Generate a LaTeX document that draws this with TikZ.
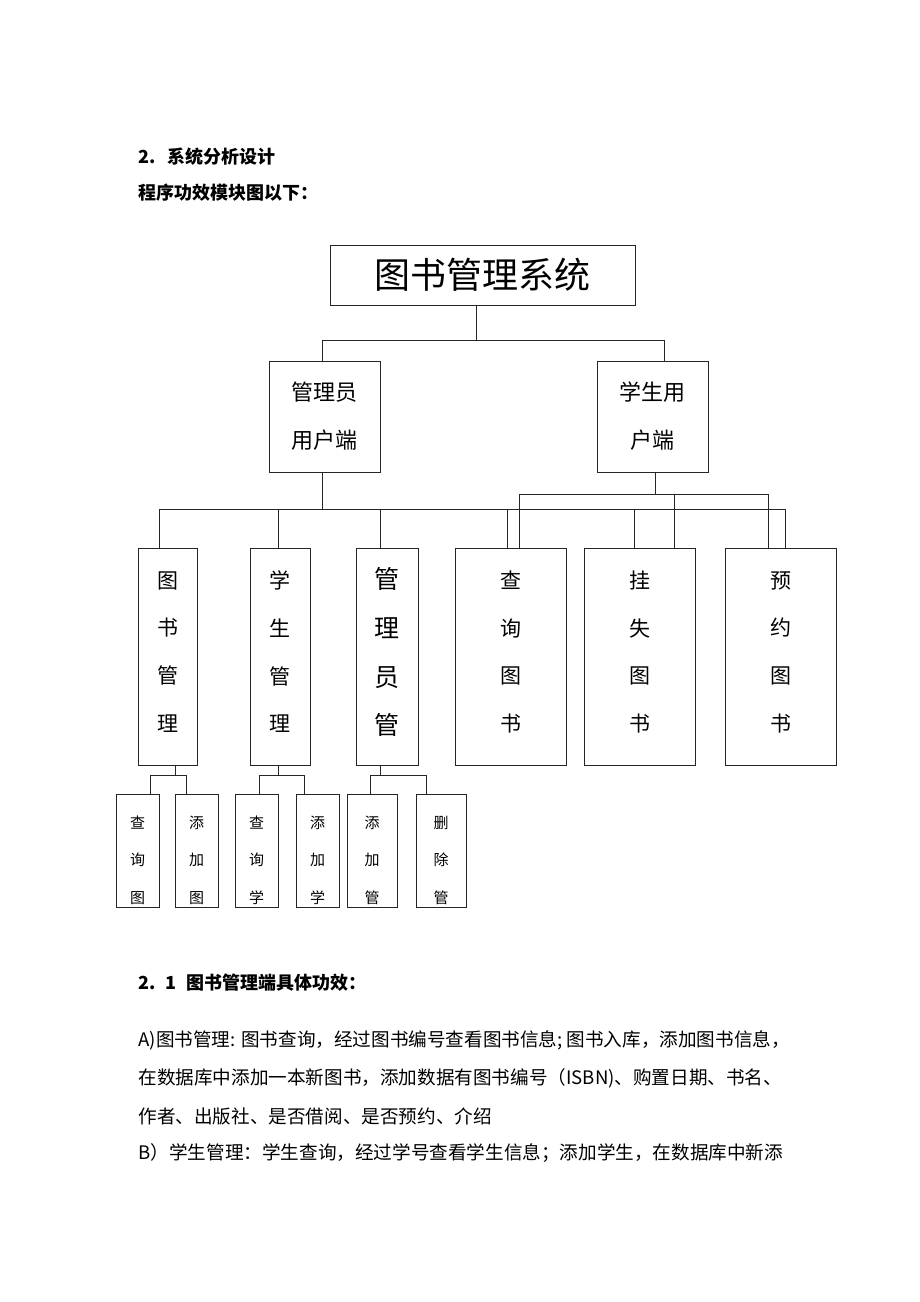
\documentclass[tikz,border=0pt]{standalone}
\usepackage{fontspec}
\setmainfont{Noto Sans CJK SC}
\usepackage{tikz}

% struts to move stacked text within its box
\newcommand{\modstrut}{\rule[-10.5pt]{0pt}{10.5pt}}
\newcommand{\leafstrut}{\rule{0pt}{31pt}}

\begin{document}
\begin{tikzpicture}[x=1pt, y=-1pt, line width=1pt]

  % Define Colors
  \definecolor{boxline}{gray}{0.15}

  % Node styles
  \tikzstyle{sysbox}=[rectangle, draw=boxline, minimum width=305, minimum height=60, font=\fontsize{36}{40}\selectfont]
  \tikzstyle{userbox}=[rectangle, draw=boxline, minimum width=111, minimum height=111, align=center, font=\fontsize{22}{48}\selectfont]
  \tikzstyle{modbox}=[rectangle, draw=boxline, minimum height=217, align=center, font=\fontsize{21}{47.7}\selectfont]
  \tikzstyle{leafbox}=[rectangle, draw=boxline, minimum height=112, align=center, font=\fontsize{15}{37.5}\selectfont]
  \tikzstyle{link}=[boxline]
  \tikzstyle{head}=[anchor=west, inner sep=0, font=\fontsize{18}{20}\selectfont\bfseries]
  \tikzstyle{para}=[anchor=west, inner sep=0, font=\fontsize{18.6}{20}\selectfont]

  \useasboundingbox (0,0) rectangle (920,1302);

  % Headings
  \node[head] (sec) at (138,157) {2.\hspace{12pt}系统分析设计};
  \node[head] (intro) at (138,193) {程序功效模块图以下：};

  % Nodes
  \node[sysbox] (root) at (482.5,275) {图书管理系统};

  \node[userbox] (admin) at (324.5,416.5) {管理员\\用户端};
  \node[userbox] (student) at (652.5,416.5) {学生用\\户端};

  \node[modbox, minimum width=59] (books) at (167.5,656.5) {图\\书\\管\\理\modstrut};
  \node[modbox, minimum width=60] (students) at (280,656.5) {学\\生\\管\\理\modstrut};
  \node[modbox, minimum width=62, font=\fontsize{25}{48.7}\selectfont] (admins) at (387,656.5) {管\\理\\员\\管\modstrut};
  \node[modbox, minimum width=111] (query) at (510.5,656.5) {查\\询\\图\\书\modstrut};
  \node[modbox, minimum width=111] (loss) at (639.5,656.5) {挂\\失\\图\\书\modstrut};
  \node[modbox, minimum width=111] (reserve) at (780.5,656.5) {预\\约\\图\\书\modstrut};

  \node[leafbox, minimum width=43] (bookq) at (137.5,851) {\leafstrut 查\\询\\图};
  \node[leafbox, minimum width=43] (bookadd) at (196.5,851) {\leafstrut 添\\加\\图};
  \node[leafbox, minimum width=43] (stuq) at (256.5,851) {\leafstrut 查\\询\\学};
  \node[leafbox, minimum width=43] (stuadd) at (317.5,851) {\leafstrut 添\\加\\学};
  \node[leafbox, minimum width=50] (admadd) at (372,851) {\leafstrut 添\\加\\管};
  \node[leafbox, minimum width=50] (admdel) at (441,851) {\leafstrut 删\\除\\管};

  % System links
  \coordinate (sysbus) at (476,340);
  \draw[link] (sysbus |- root.south) -- (sysbus);
  \draw[link] (sysbus) -| ([xshift=-2.5]admin.north);
  \draw[link] (sysbus) -| ([xshift=11.5]student.north);

  % Admin links
  \coordinate (adminbus) at (322,509);
  \draw[link] ([xshift=-2.5]admin.south) -- (adminbus);
  \draw[link] (adminbus) -| ([xshift=-8.5]books.north);
  \draw[link] (adminbus) -| ([xshift=-2]students.north);
  \draw[link] (adminbus) -| ([xshift=-7]admins.north);
  \draw[link] (adminbus) -| ([xshift=-3.5]query.north);
  \draw[link] (adminbus) -| ([xshift=-5.5]loss.north);
  \draw[link] (adminbus) -| ([xshift=4.5]reserve.north);

  % Student links
  \coordinate (stubus) at (655,494);
  \draw[link] ([xshift=2.5]student.south) -- (stubus);
  \draw[link] (stubus) -| ([xshift=8.5]query.north);
  \draw[link] (stubus) -| ([xshift=34.5]loss.north);
  \draw[link] (stubus) -| ([xshift=-12.5]reserve.north);

  % Leaf links
  \coordinate (bookbus) at (175,775);
  \draw[link] (bookbus |- books.south) -- (bookbus);
  \draw[link] (bookbus) -| ([xshift=12.5]bookq.north);
  \draw[link] (bookbus) -| ([xshift=-10.5]bookadd.north);

  \coordinate (stdbus) at (278,775);
  \draw[link] (stdbus |- students.south) -- (stdbus);
  \draw[link] (stdbus) -| ([xshift=2.5]stuq.north);
  \draw[link] (stdbus) -| ([xshift=-13.5]stuadd.north);

  \coordinate (admbus) at (380,775);
  \draw[link] (admbus |- admins.south) -- (admbus);
  \draw[link] (admbus) -| ([xshift=-2]admadd.north);
  \draw[link] (admbus) -| ([xshift=-15]admdel.north);

  % Text below
  \node[head] (subsec) at (138,983) {2.\hspace{10pt}1\hspace{10pt}图书管理端具体功效：};
  \node[para] (linea) at (138,1040) {A)图书管理: 图书查询，经过图书编号查看图书信息; 图书入库，添加图书信息，};
  \node[para] (lineb) at (138,1078) {在数据库中添加一本新图书，添加数据有图书编号（ISBN)、购置日期、书名、};
  \node[para] (linec) at (138,1116) {作者、出版社、是否借阅、是否预约、介绍};
  \node[para] (lined) at (138,1153) {B）学生管理：学生查询，经过学号查看学生信息；添加学生，在数据库中新添};

\end{tikzpicture}
\end{document}
